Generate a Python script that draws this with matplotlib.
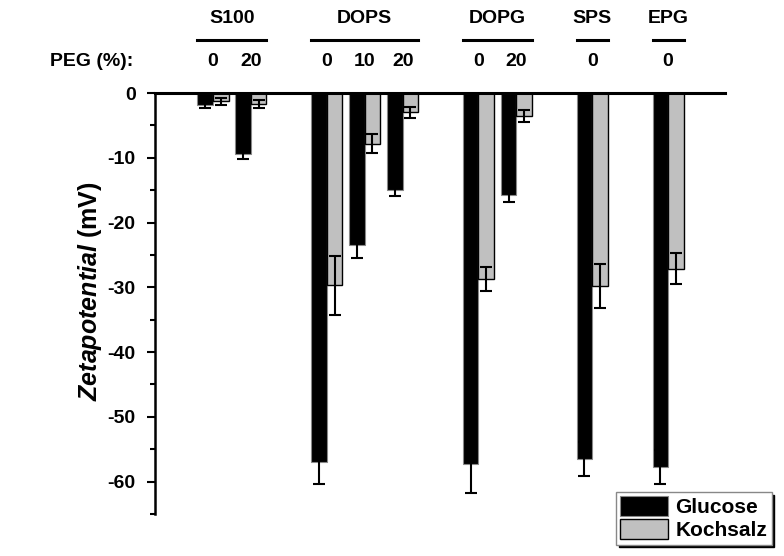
import matplotlib
matplotlib.use('Agg')
import matplotlib.pyplot as plt
import matplotlib.transforms as mtransforms
from matplotlib.ticker import MultipleLocator
import numpy as np

plt.rcParams['font.family'] = ['Liberation Sans', 'DejaVu Sans']
plt.rcParams['font.weight'] = 'bold'
plt.rcParams['axes.unicode_minus'] = False
plt.rcParams['mathtext.fontset'] = 'custom'
plt.rcParams['mathtext.bfit'] = 'Liberation Sans:italic:bold'
plt.rcParams['mathtext.bf'] = 'Liberation Sans:bold'
plt.rcParams['mathtext.rm'] = 'Liberation Sans:bold'

# Daten
gruppen = ['S100', 'DOPS', 'DOPG', 'SPS', 'EPG']
gruppen_n = [2, 3, 2, 1, 1]
peg = ['0', '20', '0', '10', '20', '0', '20', '0', '0']
glucose = [-1.9, -9.4, -57.0, -23.5, -14.9, -57.2, -15.7, -56.5, -57.7]
glucose_err = [0.4, 0.8, 3.3, 2.0, 1.0, 4.5, 1.2, 2.6, 2.6]
kochsalz = [-1.3, -1.7, -29.7, -7.8, -3.0, -28.7, -3.5, -29.8, -27.1]
kochsalz_err = [0.6, 0.65, 4.5, 1.5, 0.8, 1.85, 0.9, 3.4, 2.4]

# Positionen: eine Luecke zwischen den Gruppen
pos = []
start = 0
grp_span = []
for n in gruppen_n:
    p = list(range(start, start + n))
    pos += p
    grp_span.append((p[0], p[-1]))
    start += n + 1
pos = np.array(pos, dtype=float)

fig = plt.figure(figsize=(7.84, 5.56), dpi=100)
ax = fig.add_axes([0.1977, 0.0755, 0.727, 0.7572])

w = 0.41
ax.bar(pos - w / 2, glucose, w, color='black', edgecolor='#888888', linewidth=0.8,
       yerr=glucose_err, error_kw=dict(ecolor='black', elinewidth=1.5, capsize=4.5, capthick=1.5),
       label='Glucose')
ax.bar(pos + w / 2, kochsalz, w, color='#c0c0c0', edgecolor='black', linewidth=1.0,
       yerr=kochsalz_err, error_kw=dict(ecolor='black', elinewidth=1.5, capsize=4.5, capthick=1.5),
       label='Kochsalz')

ax.set_xlim(-1.53, 13.5)
ax.set_ylim(-65, 0)
ax.set_xticks([])
ax.yaxis.set_major_locator(MultipleLocator(10))
ax.yaxis.set_minor_locator(MultipleLocator(5))
ax.tick_params(axis='y', which='major', length=6, width=1.5, labelsize=14, pad=8)
ax.tick_params(axis='y', which='minor', length=3.5, width=1.5)
for lab in ax.get_yticklabels():
    lab.set_fontweight('bold')
ax.spines['right'].set_visible(False)
ax.spines['bottom'].set_visible(False)
ax.spines['left'].set_linewidth(1.8)
ax.spines['top'].set_linewidth(2.2)

ax.set_ylabel(r'$\mathbfit{Zetapotential}$ (mV)', fontsize=18, fontweight='bold')
ax.yaxis.set_label_coords(-0.09, 0.53)

# Beschriftung oberhalb
trans = mtransforms.blended_transform_factory(ax.transData, fig.transFigure)
for name, (a, b) in zip(gruppen, grp_span):
    ax.text((a + b) / 2, 0.967, name, transform=trans, ha='center', va='center',
            fontsize=14, fontweight='bold')
    ax.plot([a - w, b + w], [0.928, 0.928], transform=trans, color='black',
            linewidth=2.2, clip_on=False)
for p, t in zip(pos, peg):
    ax.text(p, 0.89, t, transform=trans, ha='center', va='center',
            fontsize=14, fontweight='bold')
ax.text(-2.1, 0.89, 'PEG (%):', transform=trans, ha='right', va='center',
        fontsize=14, fontweight='bold')

leg = fig.legend(loc='upper left', bbox_to_anchor=(0.786, 0.115), fontsize=15,
                 handlelength=2.3, handleheight=1.1, labelspacing=0.1,
                 handletextpad=0.35, borderpad=0.2, borderaxespad=0,
                 fancybox=False, shadow={'color': 'black', 'alpha': 1.0}, frameon=True)
leg.get_frame().set_edgecolor('#888888')
leg.get_frame().set_linewidth(1.0)
for t in leg.get_texts():
    t.set_fontweight('bold')

fig.savefig('out.png', dpi=100)
